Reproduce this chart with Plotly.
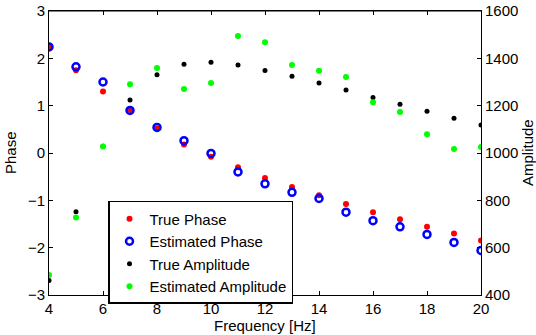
import plotly.graph_objects as go

freq = [4, 5, 6, 7, 8, 9, 10, 11, 12, 13, 14, 15, 16, 17, 18, 19, 20]
true_phase = [2.23, 1.75, 1.30, 0.91, 0.52, 0.18, -0.08, -0.30, -0.53, -0.72, -0.89, -1.08, -1.25, -1.40, -1.56, -1.70, -1.85]
est_phase = [2.24, 1.82, 1.50, 0.90, 0.54, 0.26, -0.01, -0.40, -0.65, -0.83, -0.96, -1.25, -1.43, -1.56, -1.72, -1.89, -2.06]
true_amp = [461, 752, 1028, 1224, 1331, 1375, 1383, 1372, 1349, 1324, 1296, 1266, 1235, 1206, 1176, 1147, 1118]
est_amp = [485, 727, 1027, 1290, 1359, 1270, 1296, 1494, 1468, 1372, 1348, 1321, 1214, 1173, 1079, 1017, 1025]

FONT = "Liberation Sans, Arial, Helvetica, sans-serif"

fig = go.Figure()
fig.add_trace(go.Scatter(x=freq, y=true_phase, mode="markers", name="True Phase",
                         marker=dict(color="#ff0000", size=6, line=dict(width=0)), yaxis="y"))
fig.add_trace(go.Scatter(x=freq, y=est_phase, mode="markers", name="Estimated Phase",
                         marker=dict(color="#0000ff", size=7, symbol="circle-open", line=dict(width=2.5, color="#0000ff")), yaxis="y"))
fig.add_trace(go.Scatter(x=freq, y=true_amp, mode="markers", name="True Amplitude",
                         marker=dict(color="#000000", size=5, line=dict(width=0)), yaxis="y2"))
fig.add_trace(go.Scatter(x=freq, y=est_amp, mode="markers", name="Estimated Amplitude",
                         marker=dict(color="#00ff00", size=6, line=dict(width=0)), yaxis="y2"))

fig.update_layout(
    width=536, height=335,
    margin=dict(l=49, r=55, t=11, b=40),
    paper_bgcolor="white", plot_bgcolor="white",
    font=dict(family=FONT, size=15, color="black"),
    showlegend=True,
    legend=dict(x=0.1366, y=0.331, xanchor="left", yanchor="top",
                bgcolor="white", bordercolor="black", borderwidth=1.5,
                font=dict(size=15), tracegroupgap=0, itemsizing="trace"),
    xaxis=dict(range=[4, 20], dtick=2, tick0=4, ticks="inside", ticklen=4, tickcolor="black",
               showline=True, linecolor="black", linewidth=1, mirror="ticks",
               showgrid=False, zeroline=False, automargin=False,
               tickfont=dict(size=15)),
    yaxis=dict(range=[-3, 3], dtick=1, ticks="inside", ticklen=4, tickcolor="black",
               showline=True, linecolor="black", linewidth=1,
               showgrid=False, zeroline=False, automargin=False,
               tickfont=dict(size=15)),
    yaxis2=dict(range=[400, 1600], dtick=200, ticks="inside", ticklen=4, tickcolor="black",
                showline=True, linecolor="black", linewidth=1,
                overlaying="y", side="right",
                showgrid=False, zeroline=False, automargin=False,
                tickfont=dict(size=15)),
)
fig.add_shape(type="line", xref="paper", yref="paper", x0=0, x1=1, y0=1, y1=1,
              line=dict(color="black", width=1))

fig.add_annotation(text="Frequency [Hz]", xref="paper", yref="paper", x=0.5, y=0,
                   xanchor="center", yanchor="middle", yshift=-30, showarrow=False,
                   font=dict(size=15))
fig.add_annotation(text="Phase", xref="paper", yref="paper", x=0, y=0.5,
                   xanchor="center", yanchor="middle", xshift=-39, textangle=-90,
                   showarrow=False, font=dict(size=15))
fig.add_annotation(text="Amplitude", xref="paper", yref="paper", x=1, y=0.5,
                   xanchor="center", yanchor="middle", xshift=46, textangle=-90,
                   showarrow=False, font=dict(size=15))

fig.write_html("out.html", config={"displayModeBar": False},
               post_script="document.body.style.margin='0';document.body.style.overflow='hidden';")
